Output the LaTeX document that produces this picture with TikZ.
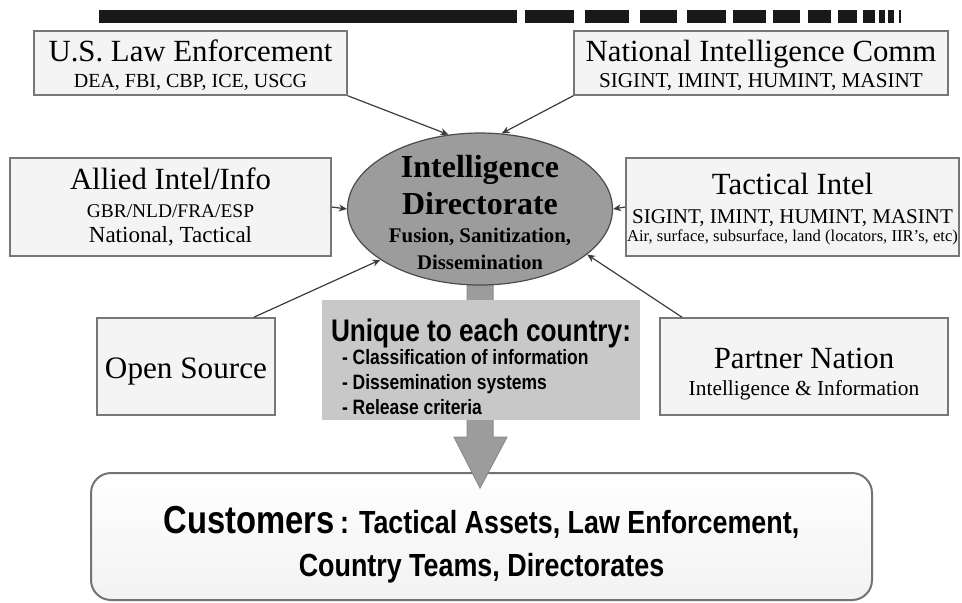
\documentclass[tikz,border=0pt]{standalone}
\usepackage{fontspec}
\setmainfont{Liberation Serif}
\newfontfamily\narrowsans[FakeStretch=0.84]{Liberation Sans}
\usetikzlibrary{arrows.meta,shapes.geometric}
\definecolor{boxfill}{HTML}{F4F4F4}
\definecolor{boxline}{HTML}{777777}
\definecolor{hubfill}{HTML}{9C9C9C}
\definecolor{notefill}{HTML}{C8C8C8}
\definecolor{linkgray}{HTML}{3C3C3C}
\lineskiplimit=-100pt

\tikzset{
  srcbox/.style={draw=boxline, fill=boxfill, line width=0.75pt, align=center, inner sep=0pt,
    font=\fontsize{15.4}{0}\selectfont},
  hub/.style={ellipse, draw=black!70, fill=hubfill, line width=0.6pt, align=center,
    inner xsep=-4pt, inner ysep=-10pt, minimum width=132.5pt, minimum height=76pt},
  feed/.style={draw=linkgray, line width=0.6pt, ->},
}

\begin{document}
\begin{tikzpicture}[x=0.5pt, y=-0.5pt, >={Stealth[length=4pt,width=3.5pt]}]
\useasboundingbox (0,0) rectangle (962,602);
% bar along the top
\fill[black!90] (99,10) rectangle (517,23);
\foreach \a/\b in {525/574,585/629,640/677,687/726,733/766,773/800,808/831,838/857,863/875,879/885,888/894,899/901}
  \fill[black!90] (\a,10) rectangle (\b,23);

\node[draw=black!55, line width=1pt, rounded corners=10pt, top color=white, bottom color=black!5,
  minimum width=390.5pt, minimum height=63.5pt, align=center, inner sep=0pt,
  font=\narrowsans\bfseries\fontsize{16}{0}\selectfont] (cust) at (481.5,536.5)
  {\rule{0pt}{22pt}{\fontsize{19.5}{0}\selectfont Customers}\,: Tactical Assets, Law Enforcement,\\[21.5pt]Country Teams, Directorates};

% big arrow down to the customers
\fill[hubfill, draw=black!45, line width=0.5pt] (467,270) -- (493,270) -- (493,437) -- (507,437)
  -- (480,488) -- (454,437) -- (467,437) -- cycle;

\node[fill=notefill, minimum width=159pt, minimum height=60pt, align=left, inner sep=0pt,
  font=\narrowsans\bfseries\fontsize{10.4}{0}\selectfont] (uniq) at (481,360)
  {\rule{0pt}{18.4pt}{\fontsize{15.6}{0}\selectfont Unique to each country:}\\[11.5pt]
   \hspace*{5.5pt}- Classification of information\\[12.5pt]
   \hspace*{5.5pt}- Dissemination systems\\[12.5pt]
   \hspace*{5.5pt}- Release criteria};

\node[srcbox, minimum width=156.5pt, minimum height=32pt] (law) at (190.5,63)
  {\rule{0pt}{13.5pt}U.S. Law Enforcement\\[13pt]{\fontsize{10}{0}\selectfont DEA, FBI, CBP, ICE, USCG}};
\node[srcbox, minimum width=187pt, minimum height=32pt] (nic) at (761,63)
  {\rule{0pt}{13.5pt}National Intelligence Comm\\[13pt]{\fontsize{10.6}{0}\selectfont SIGINT, IMINT, HUMINT, MASINT}};
\node[srcbox, minimum width=160.5pt, minimum height=49pt] (allied) at (170.5,207)
  {Allied Intel/Info\\[14pt]{\fontsize{9.7}{0}\selectfont GBR/NLD/FRA/ESP}\\[12.5pt]{\fontsize{11.5}{0}\selectfont National, Tactical}};
\node[srcbox, minimum width=166.5pt, minimum height=49pt] (tac) at (792.5,207)
  {\rule{0pt}{12.5pt}Tactical Intel\\[14.5pt]{\fontsize{10.5}{0}\selectfont SIGINT, IMINT, HUMINT, MASINT}\\[9pt]{\fontsize{8.3}{0}\selectfont Air, surface, subsurface, land (locators, IIR's, etc)}};
\node[srcbox, minimum width=89pt, minimum height=48.5pt, font=\fontsize{15.6}{0}\selectfont] (open) at (186,366.5)
  {\rule{0pt}{15.6pt}Open Source};
\node[srcbox, minimum width=144pt, minimum height=48.5pt] (partner) at (804,366.5)
  {\rule{0pt}{17.5pt}Partner Nation\\[13.5pt]{\fontsize{10.7}{0}\selectfont Intelligence \& Information}};

\node[hub, font=\bfseries\fontsize{16}{0}\selectfont] (dir) at (480,209)
  {\rule{0pt}{15pt}Intelligence\\[18.5pt]Directorate\\[14pt]{\fontsize{10.4}{0}\selectfont Fusion, Sanitization,}\\[13.5pt]{\fontsize{10.4}{0}\selectfont Dissemination}};

\draw[feed] (law.south east) to (dir.113);
\draw[feed] (nic.south west) to (dir.74);
\draw[feed] (allied.east) to (dir.west);
\draw[feed] (tac.west) to (dir.east);
\draw[feed] (open.36) to (dir.207);
\draw[feed] (partner.158) to (dir.337);
\end{tikzpicture}
\end{document}
